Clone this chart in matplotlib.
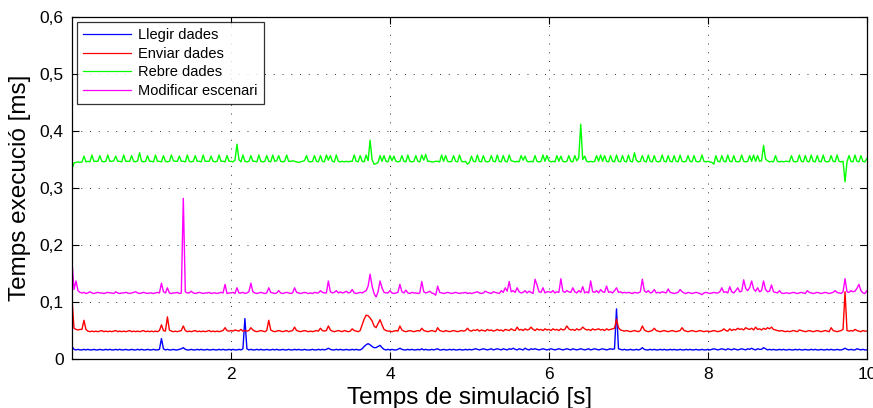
import numpy as np
import matplotlib
matplotlib.use("Agg")
import matplotlib.pyplot as plt
from matplotlib.ticker import FuncFormatter

plt.rcParams['font.family'] = ['Liberation Sans', 'DejaVu Sans']

# sample times (s), one sample every 0.025 s
t = np.linspace(0, 10, 401)

labels = ["Llegir dades", "Enviar dades", "Rebre dades", "Modificar escenari"]
colors = ["#0000ff", "#ff0000", "#00ff00", "#ff00ff"]

# values in microseconds (converted to ms below), 40 samples per second + final sample
llegir_us = [
    22,17,16,17,16,16,17,16,17,16,16,17,16,16,17,16,16,17,16,17,16,16,17,16,17,16,16,17,16,16,17,16,16,17,16,17,16,16,17,16,
    16,17,16,16,17,36,18,16,17,16,16,17,16,16,17,18,20,17,16,16,17,16,16,17,16,17,16,16,17,16,16,17,16,16,17,16,17,16,16,17,
    16,17,16,16,17,16,18,71,18,16,17,16,16,17,16,17,16,16,17,16,16,17,16,17,16,16,17,16,16,17,16,16,17,16,17,16,16,17,16,16,
    16,17,16,16,17,16,17,16,17,19,17,16,16,17,16,17,16,16,17,16,16,17,16,17,16,16,18,22,25,27,25,22,20,20,22,24,20,17,16,17,
    16,17,16,16,17,19,17,16,16,17,16,17,16,16,17,16,18,16,17,16,16,17,16,17,18,16,16,17,16,16,17,16,17,16,16,17,16,16,17,16,
    17,16,17,18,17,16,17,18,17,16,17,18,16,17,18,17,16,18,17,16,18,17,19,17,16,18,17,16,19,17,16,18,17,18,17,16,17,18,17,16,
    17,18,17,16,17,18,17,16,17,18,17,16,18,17,16,17,18,17,16,17,18,16,17,18,17,16,17,18,17,16,17,18,17,18,88,18,17,16,17,16,
    16,17,16,16,17,16,17,20,17,16,16,17,16,17,16,16,17,16,17,16,16,17,16,17,16,16,17,16,16,17,16,17,16,16,17,16,16,17,16,16,
    17,16,17,18,17,16,17,18,17,16,18,17,16,18,17,16,17,18,17,16,18,17,19,17,16,18,17,17,20,18,16,17,16,17,16,16,17,16,17,16,
    16,17,16,16,17,16,17,16,16,17,16,16,17,16,17,16,16,17,16,16,17,16,17,16,16,17,16,16,17,19,17,16,17,16,16,18,17,16,17,16,
    16,
]

enviar_us = [
    105,54,52,51,52,52,68,52,49,48,49,48,49,48,49,50,48,49,48,49,48,49,50,48,49,48,49,48,49,50,48,49,48,49,48,49,50,48,49,48,
    49,48,49,48,50,60,50,49,74,51,49,48,49,48,49,50,58,50,48,49,48,49,50,48,49,48,49,48,49,50,48,49,48,49,48,49,50,55,50,49,
    50,49,51,50,49,52,49,50,49,50,55,51,49,48,49,50,49,48,50,68,51,49,48,49,50,49,48,49,50,48,49,50,56,50,49,48,49,50,49,48,
    49,48,49,50,49,54,50,49,50,58,51,49,48,49,50,49,48,50,49,48,49,53,50,49,48,50,60,70,77,76,72,67,58,55,62,69,60,52,50,49,
    49,48,49,50,49,58,51,49,48,49,50,49,48,49,50,49,54,50,49,48,49,50,49,48,55,50,49,48,50,49,48,49,50,49,48,49,50,49,50,54,
    50,49,51,50,52,49,51,50,49,52,50,51,49,50,52,50,51,49,52,51,50,53,51,50,56,51,52,50,53,51,52,56,52,50,53,51,52,50,53,51,
    52,50,53,51,52,50,53,51,52,58,53,51,52,50,53,51,52,56,53,51,52,50,53,51,52,53,51,52,50,53,51,52,53,54,70,55,51,50,49,50,
    49,48,49,50,49,48,50,58,51,49,48,49,50,54,50,49,48,49,50,49,48,49,50,49,48,49,50,55,50,49,48,49,50,49,48,49,50,49,48,49,
    49,48,49,50,49,48,49,50,53,50,49,53,50,52,51,54,52,53,51,55,53,52,54,51,56,52,53,51,54,52,55,53,56,52,51,50,49,50,49,48,
    49,48,49,50,49,48,51,50,49,48,49,50,49,48,49,50,49,48,49,50,49,48,55,50,49,48,49,50,52,118,50,49,50,49,52,50,49,48,50,49,
    49,
]

rebre_us = [
    334,344,345,346,345,346,356,346,347,346,358,347,347,347,357,347,346,347,358,347,347,348,356,347,347,346,358,347,347,347,357,347,346,348,362,347,346,347,357,347,
    347,346,358,347,347,346,357,347,346,347,358,348,347,347,356,347,347,346,358,347,346,347,357,347,347,346,358,347,347,347,356,347,346,347,358,347,347,346,357,347,
    347,346,349,377,350,346,358,347,346,347,357,347,347,346,358,347,346,347,357,347,346,358,347,348,357,347,346,347,358,347,347,348,347,346,345,346,347,348,357,347,
    346,347,357,347,346,357,347,346,358,349,357,347,346,358,347,346,347,346,347,346,347,347,358,347,346,357,347,346,358,348,384,350,342,343,345,357,347,357,347,346,
    357,348,356,347,346,347,357,347,346,358,347,346,347,357,347,346,358,349,359,347,347,346,346,347,347,346,358,347,357,347,346,347,357,347,346,358,347,346,347,342,
    345,356,347,346,358,347,346,357,347,346,347,357,347,346,358,347,346,357,347,346,358,348,347,346,347,346,357,349,356,347,346,347,346,357,347,346,347,358,347,357,
    348,346,347,346,357,347,356,347,346,347,357,347,346,357,348,353,412,350,356,347,346,347,346,347,357,347,358,347,357,347,346,357,347,346,358,347,346,357,347,346,
    358,347,346,362,349,346,347,357,347,346,358,347,346,357,347,346,347,358,347,346,357,347,346,357,347,346,358,347,346,347,357,347,346,357,347,346,347,358,347,346,
    347,346,345,342,357,347,346,357,347,346,358,347,346,357,347,346,347,358,347,346,347,357,347,358,347,357,347,348,375,351,348,346,347,346,357,347,346,347,346,347,
    347,346,357,347,346,347,358,347,346,357,347,346,358,347,346,357,347,346,358,347,346,347,357,347,346,358,347,346,347,311,346,357,347,346,358,347,346,357,347,346,
    352,
]

modificar_us = [
    171,122,137,120,117,116,117,115,116,118,116,115,116,117,116,116,115,116,117,116,116,115,118,116,115,116,116,117,116,115,116,117,118,116,115,116,117,116,115,116,
    116,115,116,117,116,133,118,116,125,116,115,116,116,117,115,116,282,118,116,116,119,116,115,116,117,116,115,116,116,117,115,116,116,115,116,117,116,131,115,116,
    116,117,115,125,116,116,117,115,116,118,133,118,116,115,116,117,116,115,116,125,117,116,115,116,120,116,115,116,117,116,115,116,125,117,116,115,116,117,116,115,
    116,115,117,116,116,120,117,116,116,137,118,116,117,120,116,118,116,117,119,116,117,122,116,115,116,117,116,118,120,128,149,128,115,109,118,137,125,117,116,116,
    120,116,115,116,117,131,118,116,121,116,115,117,116,116,115,116,136,118,116,117,119,116,115,112,128,117,116,115,116,117,116,115,116,117,116,115,116,116,117,115,
    116,115,116,117,118,116,115,116,119,117,116,115,118,117,116,115,120,117,125,119,136,118,120,117,125,118,116,117,120,116,119,117,115,140,130,118,117,125,116,118,
    118,117,120,116,118,117,141,119,117,120,118,117,125,118,116,120,117,127,116,118,116,137,118,117,120,116,122,118,117,128,117,118,116,120,125,117,118,116,117,116,
    117,116,115,117,116,116,118,140,120,117,120,116,117,122,116,117,116,118,117,116,123,117,116,115,116,117,122,118,116,115,117,116,115,116,117,116,115,113,116,117,
    116,115,116,117,116,116,118,125,117,118,116,127,118,116,120,125,118,119,139,124,120,125,137,123,119,125,118,120,137,122,118,119,130,118,117,116,120,116,115,116,
    116,115,116,117,116,115,116,117,116,115,120,117,116,115,116,117,116,115,116,117,116,115,116,117,120,117,116,115,118,141,118,117,120,118,119,124,131,120,116,115,
    120,
]

x_ticks = [2, 4, 6, 8, 10]
y_ticks = [0, 0.1, 0.2, 0.3, 0.4, 0.5, 0.6]

series = [llegir_us, enviar_us, rebre_us, modificar_us]

fig = plt.figure(figsize=(8.73, 4.08), dpi=100)
ax = fig.add_axes([0.0825, 0.120, 0.9105, 0.838])

for vals, lab, col in zip(series, labels, colors):
    ax.plot(t, np.asarray(vals) / 1000.0, color=col, lw=1.0, label=lab)

ax.set_xlim(0, 10)
ax.set_ylim(0, 0.6)
ax.set_xticks(x_ticks)
ax.set_yticks(y_ticks)
ax.yaxis.set_major_formatter(FuncFormatter(lambda v, p: "0" if abs(v) < 1e-9 else f"{v:.1f}".replace(".", ",")))
ax.tick_params(direction="in", length=5, width=0.8, top=True, right=True, labelsize=12.5, pad=6)
ax.grid(True, color="#333333", linestyle=(0, (1, 8)), linewidth=0.7)
for sp in ax.spines.values():
    sp.set_linewidth(0.9)

ax.set_xlabel("Temps de simulació [s]", fontsize=17.5, labelpad=3)
ax.set_ylabel("Temps execució [ms]", fontsize=17.5, labelpad=6)

leg = ax.legend(loc="upper left", fontsize=10.5, frameon=True, fancybox=False,
                edgecolor="black", handlelength=3.3, borderpad=0.4, labelspacing=0.32,
                borderaxespad=0.35, handletextpad=0.5)
leg.get_frame().set_linewidth(0.9)
for h in leg.get_lines():
    h.set_linewidth(0.9)

fig.savefig("out.png", dpi=100)
